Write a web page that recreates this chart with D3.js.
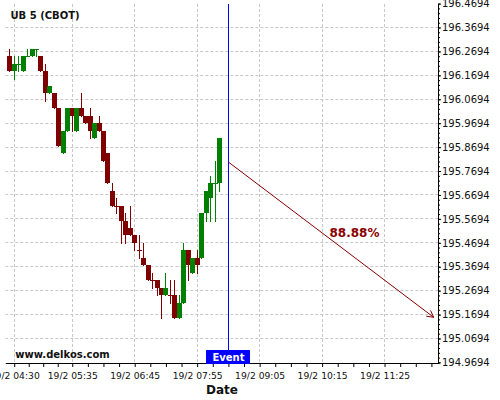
<!DOCTYPE html>
<html><head><meta charset="utf-8">
<script src="https://cdn.jsdelivr.net/npm/d3@7"></script>
<style>html,body{margin:0;padding:0;background:#fff;} svg{display:block;font-family:"DejaVu Sans",sans-serif;}</style>
</head><body>
<svg id="chart" width="500" height="400"></svg>
<script>
const title = "UB 5 (CBOT)";
const day = "2025-02-19";
const candleTimes = ["04:25","04:30","04:35","04:40","04:45","04:50","04:55","05:00","05:05","05:10","05:15","05:20","05:25","05:30","05:35","05:40","05:45","05:50","05:55","06:00","06:05","06:10","06:15","06:20","06:25","06:30","06:35","06:40","06:45","06:50","06:55","07:00","07:05","07:10","07:15","07:20","07:25","07:30","07:35","07:40","07:45","07:50","07:55","08:00","08:05","08:10","08:15","08:20"];
const opens = [196.25,196.1875,196.21875,196.1875,196.25,196.25,196.28125,196.25,196.1875,196.09375,196.09375,196.03125,195.84375,195.9375,196.03125,195.9375,196.03125,196.0,196.0,195.90625,195.96875,195.9375,195.84375,195.6875,195.625,195.625,195.5625,195.53125,195.5,195.4375,195.40625,195.375,195.3125,195.3125,195.28125,195.25,195.25,195.25,195.15625,195.21875,195.4375,195.34375,195.40625,195.40625,195.59375,195.65625,195.71875,195.71875];
const highs = [196.28125,196.25,196.25,196.25,196.28125,196.28125,196.28125,196.25,196.21875,196.125,196.09375,196.03125,195.9375,196.03125,196.03125,196.03125,196.09375,196.0,196.03125,195.96875,196.0,195.9375,195.84375,195.71875,195.65625,195.625,195.59375,195.625,195.5,195.5,195.46875,195.375,195.34375,195.3125,195.28125,195.34375,195.3125,195.3125,195.25,195.46875,195.4375,195.40625,195.4375,195.59375,195.6875,195.75,195.8125,195.90625];
const lows = [196.1875,196.15625,196.1875,196.1875,196.25,196.25,196.25,196.1875,196.0625,196.09375,196.03125,195.875,195.84375,195.9375,195.9375,195.9375,196.0,195.96875,195.90625,195.90625,195.9375,195.8125,195.71875,195.625,195.59375,195.46875,195.46875,195.5,195.4375,195.40625,195.375,195.3125,195.28125,195.25,195.15625,195.25,195.21875,195.15625,195.15625,195.21875,195.3125,195.34375,195.34375,195.40625,195.5625,195.5625,195.5625,195.6875];
const closes = [196.1875,196.21875,196.21875,196.25,196.25,196.28125,196.28125,196.1875,196.09375,196.125,196.03125,195.875,195.9375,196.03125,196.0,196.03125,196.0,195.96875,195.9375,195.96875,195.9375,195.8125,195.71875,195.625,195.625,195.5625,195.5,195.5,195.46875,195.4375,195.375,195.3125,195.3125,195.28125,195.25,195.28125,195.25,195.15625,195.21875,195.4375,195.375,195.40625,195.375,195.59375,195.6875,195.71875,195.71875,195.90625];
const rising = [0,1,1,1,1,1,1,0,0,1,0,0,1,1,0,1,0,0,0,1,0,0,0,0,0,0,0,0,0,0,0,0,0,0,0,1,0,0,1,1,0,1,0,1,1,1,1,1];
const xTickTimes = ["04:30","05:35","06:45","07:55","09:05","10:15","11:25"];
const xTickLabels = ["19/2 04:30","19/2 05:35","19/2 06:45","19/2 07:55","19/2 09:05","19/2 10:15","19/2 11:25"];
const yTicks = [196.4694,196.3694,196.2694,196.1694,196.0694,195.9694,195.8694,195.7694,195.6694,195.5694,195.4694,195.3694,195.2694,195.1694,195.0694,194.9694];
const yDomain = [194.9694, 196.4694];
const xDomain = ["04:20", "12:26"];
const eventTime = "08:30";
const eventLabel = "Event";
const arrowTimes = ["08:30", "12:20"];
const arrowPrices = [195.807, 195.158];
const arrowLabel = "88.88%";
const watermark = "www.delkos.com";
const xTitle = "Date";

const parse = d3.timeParse("%Y-%m-%d %H:%M");
const T = s => parse(day + " " + s);

const svg = d3.select("#chart");
const x = d3.scaleTime().domain(xDomain.map(T)).range([5.3, 439]);
const y = d3.scaleLinear().domain(yDomain).range([362.4, 3.6]);
const crisp = v => Math.floor(v) + 0.5;

const RED = "#800000", GREEN = "#008000", GRID = "#c8c8c8";

// grid
const grid = svg.append("g");
yTicks.slice(1, -1).forEach(v => {
  grid.append("line").attr("x1", 5.3).attr("x2", 438).attr("y1", crisp(y(v))).attr("y2", crisp(y(v)))
    .attr("stroke", GRID).attr("stroke-dasharray", "3,2");
});
xTickTimes.forEach(t => {
  grid.append("line").attr("x1", crisp(x(T(t)))).attr("x2", crisp(x(T(t)))).attr("y1", 4).attr("y2", 363)
    .attr("stroke", GRID).attr("stroke-dasharray", "3,2");
});

// candles
const cg = svg.append("g");
candleTimes.forEach((t, i) => {
  const cx = x(T(t));
  const col = rising[i] ? GREEN : RED;
  cg.append("line").attr("x1", crisp(cx)).attr("x2", crisp(cx))
    .attr("y1", Math.round(y(highs[i]))).attr("y2", Math.round(y(lows[i])) + 1)
    .attr("stroke", col).attr("stroke-width", 1);
  const top = Math.round(y(Math.max(opens[i], closes[i])));
  const bot = Math.round(y(Math.min(opens[i], closes[i])));
  cg.append("rect").attr("x", Math.round(cx - 2.5)).attr("width", 5)
    .attr("y", top).attr("height", Math.max(1, bot - top)).attr("fill", col);
});

// x axis minor ticks
const majors = xTickTimes.map(T);
const minors = [];
for (let i = 0; i < majors.length - 1; i++) {
  const a = +majors[i], b = +majors[i + 1];
  for (let k = 1; k < 4; k++) minors.push(new Date(a + (b - a) * k / 4));
}
{
  const a = +majors[majors.length - 2], b = +majors[majors.length - 1], step = (b - a) / 4;
  for (let v = b + step; v <= +x.domain()[1]; v += step) minors.push(new Date(v));
}
const xAxis = svg.append("g").attr("transform", "translate(0,363)")
  .call(d3.axisBottom(x).tickValues(majors).tickSize(4).tickSizeOuter(0).tickPadding(5)
    .tickFormat((d, i) => xTickLabels[i]));
xAxis.selectAll("text").attr("font-family", "DejaVu Sans").attr("font-size", 9.2).attr("fill", "#111");
svg.append("g").attr("transform", "translate(0,363)")
  .call(d3.axisBottom(x).tickValues(minors).tickSize(4).tickFormat(""))
  .select(".domain").remove();

// y axis
const yAxis = svg.append("g").attr("transform", "translate(438,0)")
  .call(d3.axisRight(y).tickValues(yTicks).tickSize(3).tickSizeOuter(0).tickPadding(1)
    .tickFormat(d3.format(".4f")));
yAxis.selectAll("text").attr("font-family", "DejaVu Sans").attr("font-size", 10).attr("fill", "#111");
const yMinor = d3.range(0, 76).map(k => yDomain[0] + k * 0.02).filter(v => v <= yDomain[1] + 1e-9);
svg.append("g").attr("transform", "translate(438,0)")
  .call(d3.axisRight(y).tickValues(yMinor).tickSize(2).tickFormat(""))
  .select(".domain").remove();

// event line and label
const ex = crisp(x(T(eventTime)));
svg.append("line").attr("x1", ex).attr("x2", ex).attr("y1", 4).attr("y2", 350)
  .attr("stroke", "#0000ff").attr("stroke-width", 1);
svg.append("rect").attr("x", ex - 22.5).attr("y", 350).attr("width", 44).attr("height", 14).attr("fill", "#0000ff");
svg.append("text").attr("x", ex).attr("y", 360.7).attr("text-anchor", "middle")
  .attr("font-family", "DejaVu Sans").attr("font-weight", "bold").attr("font-size", 10)
  .attr("fill", "#fff").text(eventLabel);

// arrow
const ax1 = x(T(arrowTimes[0])), ay1 = y(arrowPrices[0]);
const ax2 = x(T(arrowTimes[1])), ay2 = y(arrowPrices[1]);
const ARROW = "#8b0000";
svg.append("line").attr("x1", ax1).attr("y1", ay1).attr("x2", ax2).attr("y2", ay2)
  .attr("stroke", ARROW).attr("stroke-width", 1);
const ang = Math.atan2(ay2 - ay1, ax2 - ax1);
const hl = 7.5;
[ang + Math.PI - 0.5, ang + Math.PI + 0.5].forEach(a => {
  svg.append("line").attr("x1", ax2).attr("y1", ay2)
    .attr("x2", ax2 + hl * Math.cos(a)).attr("y2", ay2 + hl * Math.sin(a))
    .attr("stroke", ARROW).attr("stroke-width", 1);
});
svg.append("text").attr("x", 354.5).attr("y", 237.3).attr("text-anchor", "middle")
  .attr("font-family", "DejaVu Sans").attr("font-weight", "bold").attr("font-size", 12)
  .attr("fill", ARROW).text(arrowLabel);

// texts
svg.append("text").attr("x", 10.5).attr("y", 19.3)
  .attr("font-family", "DejaVu Sans").attr("font-weight", "bold").attr("font-size", 10)
  .attr("fill", "#111").text(title);
svg.append("text").attr("x", 15.3).attr("y", 357.7)
  .attr("font-family", "DejaVu Sans").attr("font-weight", "bold").attr("font-size", 10)
  .attr("fill", "#111").text(watermark);
svg.append("text").attr("x", 222).attr("y", 394).attr("text-anchor", "middle")
  .attr("font-family", "DejaVu Sans").attr("font-weight", "bold").attr("font-size", 12)
  .attr("fill", "#111").text(xTitle);
</script>
</body></html>
